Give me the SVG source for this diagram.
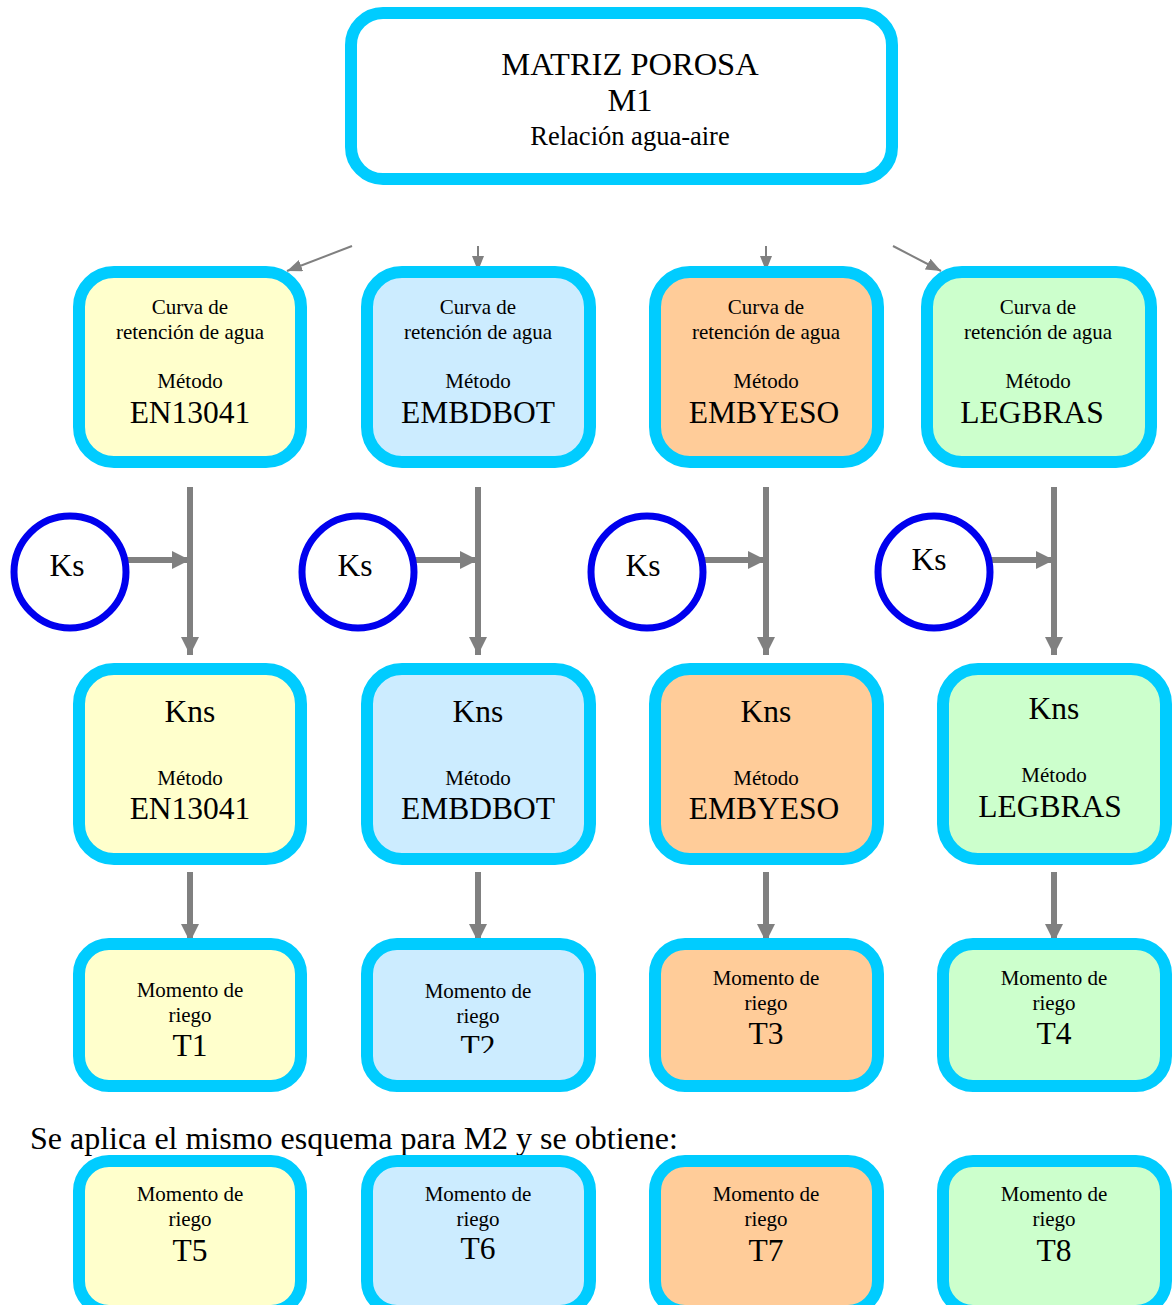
<svg xmlns="http://www.w3.org/2000/svg" width="1173" height="1305" viewBox="0 0 1173 1305">
<defs>
<marker id="thick" markerUnits="userSpaceOnUse" markerWidth="18" markerHeight="18" refX="18" refY="9" orient="auto"><path d="M0,0 L18,9 L0,18 z" fill="#808080"/></marker>
<marker id="thin" markerUnits="userSpaceOnUse" markerWidth="15" markerHeight="12" refX="15" refY="6" orient="auto"><path d="M0,0 L15,6 L0,12 z" fill="#808080"/></marker>
<clipPath id="clipT2"><rect x="360" y="900" width="240" height="153"/></clipPath>
<style>
.box{stroke:#00CCFF;stroke-width:12}
.y{fill:#FFFFCC}.b{fill:#CCECFF}.o{fill:#FFCC99}.g{fill:#CCFFCC}
.t{font-family:"Liberation Serif","Times New Roman",serif;fill:#000;text-anchor:middle}
.s19{font-size:21px}.s24{font-size:26.5px}.s30{font-size:31.5px}.s32{font-size:32.5px}
.ks{fill:#fff;stroke:#0000EE;stroke-width:7}
.c1{stroke:#808080;stroke-width:2;fill:none}
.c6{stroke:#808080;stroke-width:6;fill:none}
</style>
</defs>
<rect width="1173" height="1305" fill="#fff"/>

<g id="top">
<rect class="box" x="351" y="13" width="541" height="166" rx="32" fill="#fff"/>
<text class="t s32" x="630" y="75">MATRIZ POROSA</text>
<text class="t s32" x="630" y="111">M1</text>
<text class="t s24" x="630" y="145">Relación agua-aire</text>
</g>

<g id="connectors">
<line class="c1" x1="352" y1="246" x2="287" y2="271" marker-end="url(#thin)"/>
<line class="c1" x1="478" y1="246" x2="478" y2="271" marker-end="url(#thin)"/>
<line class="c1" x1="766" y1="246" x2="766" y2="271" marker-end="url(#thin)"/>
<line class="c1" x1="893" y1="246" x2="941" y2="271" marker-end="url(#thin)"/>

<line class="c6" x1="190" y1="487" x2="190" y2="655" marker-end="url(#thick)"/>
<line class="c6" x1="478" y1="487" x2="478" y2="655" marker-end="url(#thick)"/>
<line class="c6" x1="766" y1="487" x2="766" y2="655" marker-end="url(#thick)"/>
<line class="c6" x1="1054" y1="487" x2="1054" y2="655" marker-end="url(#thick)"/>

<line class="c6" x1="127" y1="560" x2="190" y2="560" marker-end="url(#thick)"/>
<line class="c6" x1="415" y1="560" x2="478" y2="560" marker-end="url(#thick)"/>
<line class="c6" x1="703" y1="560" x2="766" y2="560" marker-end="url(#thick)"/>
<line class="c6" x1="991" y1="560" x2="1054" y2="560" marker-end="url(#thick)"/>

<line class="c6" x1="190" y1="872" x2="190" y2="942" marker-end="url(#thick)"/>
<line class="c6" x1="478" y1="872" x2="478" y2="942" marker-end="url(#thick)"/>
<line class="c6" x1="766" y1="872" x2="766" y2="942" marker-end="url(#thick)"/>
<line class="c6" x1="1054" y1="872" x2="1054" y2="942" marker-end="url(#thick)"/>
</g>

<g id="curva1">
<rect class="box y" x="79" y="272" width="222" height="190" rx="35"/>
<text class="t s19" x="190" y="314">Curva de</text>
<text class="t s19" x="190" y="339">retención de agua</text>
<text class="t s19" x="190" y="388">Método</text>
<text class="t s30" x="190" y="423">EN13041</text>
</g>
<g id="curva2">
<rect class="box b" x="367" y="272" width="223" height="190" rx="35"/>
<text class="t s19" x="478" y="314">Curva de</text>
<text class="t s19" x="478" y="339">retención de agua</text>
<text class="t s19" x="478" y="388">Método</text>
<text class="t s30" x="478" y="423">EMBDBOT</text>
</g>
<g id="curva3">
<rect class="box o" x="655" y="272" width="223" height="190" rx="35"/>
<text class="t s19" x="766" y="314">Curva de</text>
<text class="t s19" x="766" y="339">retención de agua</text>
<text class="t s19" x="766" y="388">Método</text>
<text class="t s30" x="764" y="423">EMBYESO</text>
</g>
<g id="curva4">
<rect class="box g" x="927" y="272" width="224" height="190" rx="35"/>
<text class="t s19" x="1038" y="314">Curva de</text>
<text class="t s19" x="1038" y="339">retención de agua</text>
<text class="t s19" x="1038" y="388">Método</text>
<text class="t s30" x="1032" y="423">LEGBRAS</text>
</g>

<g id="ks1"><circle class="ks" cx="70" cy="572" r="56"/><text class="t s30" x="67" y="576">Ks</text></g>
<g id="ks2"><circle class="ks" cx="358" cy="572" r="56"/><text class="t s30" x="355" y="576">Ks</text></g>
<g id="ks3"><circle class="ks" cx="647" cy="572" r="56"/><text class="t s30" x="643" y="576">Ks</text></g>
<g id="ks4"><circle class="ks" cx="934" cy="572" r="56"/><text class="t s30" x="929" y="570">Ks</text></g>

<g id="kns1">
<rect class="box y" x="79" y="669" width="222" height="190" rx="35"/>
<text class="t s30" x="190" y="722">Kns</text>
<text class="t s19" x="190" y="785">Método</text>
<text class="t s30" x="190" y="819">EN13041</text>
</g>
<g id="kns2">
<rect class="box b" x="367" y="669" width="223" height="190" rx="35"/>
<text class="t s30" x="478" y="722">Kns</text>
<text class="t s19" x="478" y="785">Método</text>
<text class="t s30" x="478" y="819">EMBDBOT</text>
</g>
<g id="kns3">
<rect class="box o" x="655" y="669" width="223" height="190" rx="35"/>
<text class="t s30" x="766" y="722">Kns</text>
<text class="t s19" x="766" y="785">Método</text>
<text class="t s30" x="764" y="819">EMBYESO</text>
</g>
<g id="kns4">
<rect class="box g" x="943" y="669" width="223" height="190" rx="35"/>
<text class="t s30" x="1054" y="719">Kns</text>
<text class="t s19" x="1054" y="782">Método</text>
<text class="t s30" x="1050" y="817">LEGBRAS</text>
</g>

<g id="t1">
<rect class="box y" x="79" y="944" width="222" height="142" rx="30"/>
<text class="t s19" x="190" y="997">Momento de</text>
<text class="t s19" x="190" y="1022">riego</text>
<text class="t s30" x="190" y="1056">T1</text>
</g>
<g id="t2">
<rect class="box b" x="367" y="944" width="223" height="142" rx="30"/>
<text class="t s19" x="478" y="998">Momento de</text>
<text class="t s19" x="478" y="1023">riego</text>
<text class="t s30" x="478" y="1057" clip-path="url(#clipT2)">T2</text>
</g>
<g id="t3">
<rect class="box o" x="655" y="944" width="223" height="142" rx="30"/>
<text class="t s19" x="766" y="985">Momento de</text>
<text class="t s19" x="766" y="1010">riego</text>
<text class="t s30" x="766" y="1044">T3</text>
</g>
<g id="t4">
<rect class="box g" x="943" y="944" width="223" height="142" rx="30"/>
<text class="t s19" x="1054" y="985">Momento de</text>
<text class="t s19" x="1054" y="1010">riego</text>
<text class="t s30" x="1054" y="1044">T4</text>
</g>

<text id="note" x="30" y="1149" font-family="'Liberation Serif','Times New Roman',serif" font-size="32">Se aplica el mismo esquema para M2 y se obtiene:</text>

<g id="t5">
<rect class="box y" x="79" y="1161" width="222" height="150" rx="30"/>
<text class="t s19" x="190" y="1201">Momento de</text>
<text class="t s19" x="190" y="1226">riego</text>
<text class="t s30" x="190" y="1261">T5</text>
</g>
<g id="t6">
<rect class="box b" x="367" y="1161" width="223" height="150" rx="30"/>
<text class="t s19" x="478" y="1201">Momento de</text>
<text class="t s19" x="478" y="1226">riego</text>
<text class="t s30" x="478" y="1259">T6</text>
</g>
<g id="t7">
<rect class="box o" x="655" y="1161" width="223" height="150" rx="30"/>
<text class="t s19" x="766" y="1201">Momento de</text>
<text class="t s19" x="766" y="1226">riego</text>
<text class="t s30" x="766" y="1261">T7</text>
</g>
<g id="t8">
<rect class="box g" x="943" y="1161" width="223" height="150" rx="30"/>
<text class="t s19" x="1054" y="1201">Momento de</text>
<text class="t s19" x="1054" y="1226">riego</text>
<text class="t s30" x="1054" y="1261">T8</text>
</g>
</svg>
